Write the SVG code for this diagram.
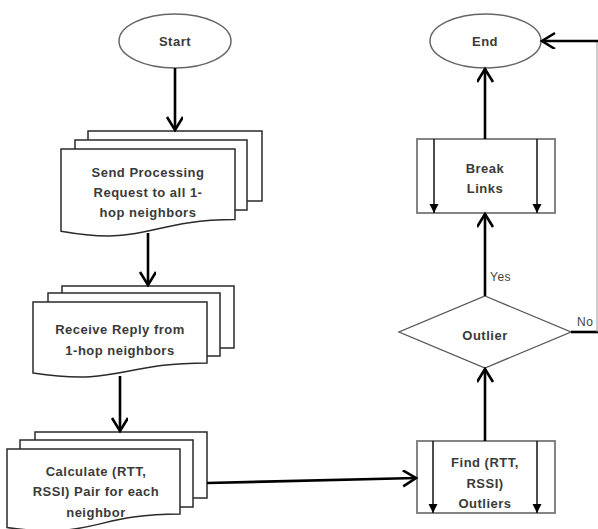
<svg xmlns="http://www.w3.org/2000/svg" width="598" height="529" viewBox="0 0 598 529">
<defs>
<style>
.t{font-family:"Liberation Sans",Arial,sans-serif;font-weight:bold;font-size:13px;fill:#3a3a3a;text-anchor:middle;letter-spacing:0.5px}
.lbl{font-family:"Liberation Sans",Arial,sans-serif;font-size:12px;fill:#444;letter-spacing:0.5px}
.ell{fill:#fff;stroke:#666;stroke-width:1.5}
.doc{fill:#fff;stroke:#2a2a2a;stroke-width:1.5}
.box{fill:#fff;stroke:#777;stroke-width:1.8}
.dia{fill:#fff;stroke:#555;stroke-width:1.3}
.inner{stroke:#111;stroke-width:1.5;fill:none}
.c{stroke:#000;stroke-width:2.6;fill:none}
.thin{stroke:#999;stroke-width:1;fill:none}
</style>
<marker id="open" markerUnits="userSpaceOnUse" markerWidth="20" markerHeight="20" refX="14" refY="8" orient="auto">
<path d="M1,0 L14,8 L1,16" fill="none" stroke="#000" stroke-width="2.6"/>
</marker>
<marker id="tri" markerUnits="userSpaceOnUse" markerWidth="10" markerHeight="10" refX="9" refY="4.5" orient="auto">
<path d="M0,0 L9,4.5 L0,9 Z" fill="#000"/>
</marker>
</defs>

<g id="start">
<ellipse class="ell" cx="175" cy="41" rx="56" ry="27"/>
<text class="t" x="175" y="46">Start</text>
</g>

<g id="send">
<rect class="doc" x="88" y="131" width="174" height="70"/>
<rect class="doc" x="75" y="140" width="172" height="70"/>
<path class="doc" d="M61,149 H235 V219.6 C148,219.6 148,246.5 61,231.2 Z"/>
<text class="t" x="148" y="177">Send Processing</text>
<text class="t" x="148" y="197">Request to all 1-</text>
<text class="t" x="148" y="217">hop neighbors</text>
</g>

<g id="receive">
<rect class="doc" x="62" y="286" width="172" height="62"/>
<rect class="doc" x="48" y="293" width="172" height="63"/>
<path class="doc" d="M33,302 H207 V363 C120,363 120,386 33,373 Z"/>
<text class="t" x="120" y="334">Receive Reply from</text>
<text class="t" x="120" y="355">1-hop neighbors</text>
</g>

<g id="calculate">
<rect class="doc" x="35" y="432" width="172" height="66"/>
<rect class="doc" x="20" y="440" width="173" height="67"/>
<path class="doc" d="M7,449 H180 V514 C93.5,514 93.5,540 7,527.5 Z"/>
<text class="t" x="96" y="476">Calculate (RTT,</text>
<text class="t" x="96" y="496">RSSI) Pair for each</text>
<text class="t" x="96" y="517">neighbor</text>
</g>

<g id="find">
<rect class="box" x="417" y="441" width="138" height="72"/>
<line class="inner" x1="433" y1="441" x2="433" y2="513" marker-end="url(#tri)"/>
<line class="inner" x1="537" y1="441" x2="537" y2="513" marker-end="url(#tri)"/>
<text class="t" x="485" y="467">Find (RTT,</text>
<text class="t" x="485" y="488">RSSI)</text>
<text class="t" x="485" y="508">Outliers</text>
</g>

<g id="outlier">
<polygon class="dia" points="485,296 571,332 485,368 399,332"/>
<text class="t" x="485" y="340">Outlier</text>
</g>

<g id="break">
<rect class="box" x="417" y="139" width="138" height="74"/>
<line class="inner" x1="434" y1="139" x2="434" y2="213" marker-end="url(#tri)"/>
<line class="inner" x1="537" y1="139" x2="537" y2="213" marker-end="url(#tri)"/>
<text class="t" x="485" y="173">Break</text>
<text class="t" x="485" y="193">Links</text>
</g>

<g id="end">
<ellipse class="ell" cx="485.5" cy="41" rx="55.5" ry="27"/>
<text class="t" x="485" y="46">End</text>
</g>

<g id="connectors">
<line class="c" x1="175" y1="68" x2="175" y2="130" marker-end="url(#open)"/>
<line class="c" x1="148" y1="233" x2="148" y2="285" marker-end="url(#open)"/>
<line class="c" x1="120" y1="376" x2="120" y2="431" marker-end="url(#open)"/>
<line class="c" x1="207" y1="483" x2="416" y2="478" marker-end="url(#open)"/>
<line class="c" x1="485" y1="441" x2="485" y2="369" marker-end="url(#open)"/>
<line class="c" x1="485" y1="296" x2="485" y2="214" marker-end="url(#open)"/>
<line class="c" x1="485" y1="139" x2="485" y2="69" marker-end="url(#open)"/>
<line class="c" x1="571" y1="332" x2="598" y2="332"/>
<line class="thin" x1="597" y1="41" x2="597" y2="332"/>
<line class="c" x1="598" y1="41" x2="542" y2="41" marker-end="url(#open)"/>
<text class="lbl" x="490" y="281">Yes</text>
<text class="lbl" x="577" y="326">No</text>
</g>
</svg>
